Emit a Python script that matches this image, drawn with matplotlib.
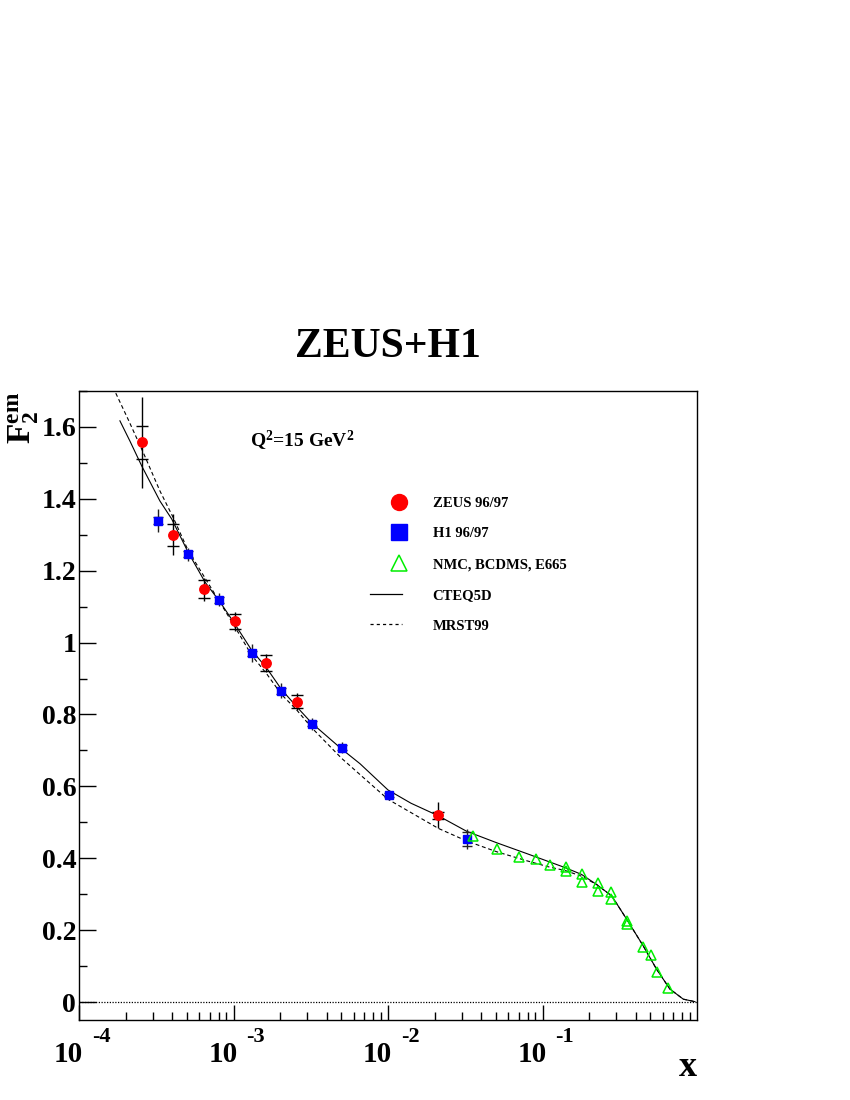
import matplotlib
matplotlib.use('Agg')
import matplotlib.pyplot as plt
import matplotlib.transforms as mtransforms
from matplotlib.lines import Line2D
from matplotlib.legend_handler import HandlerLine2D
from matplotlib.ticker import FixedLocator, NullFormatter, MultipleLocator

plt.rcParams['font.family'] = ['Liberation Serif', 'DejaVu Serif']
plt.rcParams['font.weight'] = 'bold'
plt.rcParams['mathtext.fontset'] = 'custom'
plt.rcParams['mathtext.rm'] = 'Liberation Serif:bold'
plt.rcParams['mathtext.bf'] = 'Liberation Serif:bold'
plt.rcParams['mathtext.it'] = 'Liberation Serif:bold'

# ---------------- data ----------------
zeus_x = [2.55e-4, 4.05e-4, 6.4e-4, 1.02e-3, 1.63e-3, 2.57e-3, 2.12e-2]
zeus_y = [1.557, 1.300, 1.149, 1.059, 0.944, 0.836, 0.520]
zeus_stat = [0.046, 0.030, 0.024, 0.021, 0.022, 0.018, 0.010]
zeus_tot = [0.126, 0.057, 0.032, 0.026, 0.025, 0.023, 0.037]

h1_x = [3.26e-4, 5.08e-4, 8.1e-4, 1.31e-3, 2.03e-3, 3.22e-3, 5.04e-3, 1.01e-2, 3.24e-2]
h1_y = [1.339, 1.246, 1.119, 0.970, 0.866, 0.774, 0.708, 0.576, 0.454]
h1_stat = [0.010, 0.008, 0.008, 0.008, 0.008, 0.007, 0.006, 0.005, 0.019]
h1_tot = [0.032, 0.018, 0.018, 0.025, 0.021, 0.016, 0.016, 0.008, 0.028]

fix_x = [3.56e-2, 5.05e-2, 7.05e-2, 9.04e-2, 0.111, 0.141, 0.141, 0.180, 0.180,
         0.227, 0.227, 0.277, 0.277, 0.351, 0.351, 0.449, 0.501, 0.553, 0.652]
fix_y = [0.462, 0.427, 0.404, 0.398, 0.380, 0.376, 0.365, 0.356, 0.335,
         0.330, 0.310, 0.305, 0.287, 0.226, 0.216, 0.154, 0.131, 0.083, 0.038]

cteq_x = [1.84e-4, 2.14e-4, 2.55e-4, 3.34e-4, 3.98e-4, 5.09e-4, 6.55e-4, 8.18e-4,
          9.98e-4, 1.31e-3, 1.64e-3, 2.05e-3, 2.56e-3, 3.21e-3, 5.01e-3, 6.59e-3,
          1.00e-2, 1.41e-2, 2.12e-2, 3.23e-2, 5.06e-2, 7.91e-2, 0.140, 0.179,
          0.224, 0.281, 0.351, 0.449, 0.548, 0.668, 0.815, 0.97]
cteq_y = [1.617, 1.560, 1.491, 1.394, 1.344, 1.251, 1.168, 1.113,
          1.058, 0.979, 0.929, 0.869, 0.822, 0.776, 0.704, 0.663,
          0.590, 0.553, 0.518, 0.475, 0.443, 0.413, 0.374, 0.355,
          0.327, 0.295, 0.230, 0.156, 0.091, 0.036, 0.008, 0.001]

mrst_x = [1.73e-4, 2.08e-4, 2.61e-4, 3.34e-4, 4.07e-4, 5.09e-4, 9.98e-4, 1.31e-3,
          1.64e-3, 2.05e-3, 2.56e-3, 3.21e-3, 5.01e-3, 1.00e-2, 2.12e-2,
          3.23e-2, 5.06e-2, 7.91e-2, 0.112, 0.140, 0.179, 0.224, 0.281, 0.351,
          0.449, 0.548, 0.668, 0.815, 0.97]
mrst_y = [1.694, 1.621, 1.528, 1.422, 1.348, 1.256, 1.051, 0.965,
          0.913, 0.855, 0.813, 0.763, 0.678, 0.564, 0.483,
          0.448, 0.418, 0.393, 0.375, 0.366, 0.350, 0.327, 0.295, 0.230,
          0.156, 0.091, 0.036, 0.008, 0.001]

xmaj = [1e-4, 1e-3, 1e-2, 1e-1]
xmaj_exp = ['-4', '-3', '-2', '-1']

# ---------------- figure ----------------
fig = plt.figure(figsize=(8.5, 11), dpi=100)
ax = fig.add_axes([79/850, 1-1020/1100, (697-79)/850, (1020-391)/1100])
ax.set_xscale('log')
ax.set_xlim(1e-4, 1.0)
ax.set_ylim(-0.05, 1.7)

ax.axhline(0.0, color='black', ls=(0, (1, 1.2)), lw=0.9, zorder=1)

ax.plot(cteq_x, cteq_y, color='black', lw=0.8, zorder=2)
ax.plot(mrst_x, mrst_y, color='black', lw=0.8, ls=(0, (3.5, 2.5)), zorder=2)

# error bars (total as line, stat as tick marks)
ax.errorbar(zeus_x, zeus_y, yerr=zeus_tot, fmt='none', ecolor='black', elinewidth=1.0, capsize=0, zorder=3)
ax.errorbar(zeus_x, zeus_y, yerr=zeus_stat, fmt='none', ecolor='black', elinewidth=0, capsize=4, capthick=1.0, zorder=3)
ax.errorbar(h1_x, h1_y, yerr=h1_tot, fmt='none', ecolor='#222222', elinewidth=1.0, capsize=0, zorder=3)
ax.errorbar(h1_x, h1_y, yerr=h1_stat, fmt='none', ecolor='#222222', elinewidth=0, capsize=3.5, capthick=1.0, zorder=3)

ax.plot(zeus_x, zeus_y, 'o', color='#ff0000', ms=6.8, mec='#ff0000', zorder=4, ls='none')
ax.plot(h1_x, h1_y, 's', color='#0000ff', ms=5.8, mec='#0000ff', zorder=4, ls='none')
ax.plot(fix_x, fix_y, '^', mfc='none', mec='#00ee00', mew=1.1, ms=7, zorder=4, ls='none')

# frame and ticks
for s in ax.spines.values():
    s.set_linewidth(1.0)
ax.xaxis.set_major_locator(FixedLocator(xmaj))
minors = [m * 10.0**e for e in range(-4, 0) for m in range(2, 10)]
ax.xaxis.set_minor_locator(FixedLocator(minors))
ax.xaxis.set_major_formatter(NullFormatter())
ax.xaxis.set_minor_formatter(NullFormatter())
ax.yaxis.set_major_locator(MultipleLocator(0.2))
ax.yaxis.set_minor_locator(MultipleLocator(0.1))

def yfmt(v, pos):
    if abs(v) < 1e-9:
        return '0'
    s = '%.1f' % v
    if s.endswith('.0'):
        s = s[:-2]
    return s
ax.yaxis.set_major_formatter(plt.FuncFormatter(yfmt))
ax.tick_params(axis='both', which='both', direction='in', top=False, right=False)
ax.tick_params(axis='y', which='major', length=12, width=1.0, labelsize=20, pad=2)
ax.tick_params(axis='y', which='minor', length=6, width=1.0)
ax.tick_params(axis='x', which='major', length=11, width=1.0)
ax.tick_params(axis='x', which='minor', length=6, width=1.0)
for lab in ax.get_yticklabels():
    lab.set_fontweight('bold')

# x tick labels "10" with raised exponent
trans = mtransforms.blended_transform_factory(ax.transData, ax.transAxes)
for xv, ex in zip(xmaj, xmaj_exp):
    t1 = mtransforms.offset_copy(trans, fig=fig, x=4, y=-41.5, units='dots')
    ax.text(xv, 0, '10', transform=t1, ha='right', va='baseline', fontsize=21, fontweight='bold')
    t2 = mtransforms.offset_copy(trans, fig=fig, x=13, y=-22, units='dots')
    ax.text(xv, 0, ex, transform=t2, ha='left', va='baseline', fontsize=16, fontweight='bold')

fig.text(697/850, 1-1076/1100, 'x', ha='right', va='baseline', fontsize=26, fontweight='bold')
fig.text(24/850, 1-418/1100, r'$\mathrm{F_2^{em}}$', rotation=90, ha='center', va='center', fontsize=24)
fig.text(388/850, 1-347/1100, 'ZEUS+H1', ha='center', va='center', fontsize=30, fontweight='bold')
fig.text(250/850, 1-441/1100, r'Q$^{2}$=15 GeV$^{2}$', ha='left', va='center', fontsize=14, fontweight='bold')

# legend
class ShortLine(HandlerLine2D):
    def create_artists(self, legend, orig_handle, xdescent, ydescent, width, height, fontsize, trans):
        arts = super().create_artists(legend, orig_handle, xdescent, ydescent, width, height, fontsize, trans)
        for a in arts:
            xd = list(a.get_xdata())
            yd = list(a.get_ydata())
            if len(xd) >= 2 and a.get_linestyle() not in ('None', 'none', ''):
                x0, x1 = min(xd), max(xd)
                a.set_data([x0, x0 + 0.55 * (x1 - x0)], [yd[0], yd[0]])
        return arts

h_z = Line2D([], [], marker='o', color='#ff0000', ls='none', ms=11.5)
h_h = Line2D([], [], marker='s', color='#0000ff', ls='none', ms=11)
h_f = Line2D([], [], marker='^', mfc='none', mec='#00ee00', mew=1.1, ls='none', ms=12)
h_c = Line2D([], [], color='black', lw=0.9)
h_m = Line2D([], [], color='black', lw=0.9, ls=(0, (2.5, 2.5)))
leg = ax.legend([h_z, h_h, h_f, h_c, h_m],
                ['ZEUS 96/97', 'H1 96/97', 'NMC, BCDMS, E665', 'CTEQ5D', 'MRST99'],
                loc='upper left', bbox_to_anchor=(370/850, 1-496.5/1100), bbox_transform=fig.transFigure,
                frameon=False, borderpad=0, borderaxespad=0, handlelength=4.0, handletextpad=0.3,
                labelspacing=1.2, prop={'family': 'Liberation Serif', 'weight': 'bold', 'size': 10.5},
                handler_map={h_c: ShortLine(), h_m: ShortLine()})

fig.savefig('out.png', dpi=100)
